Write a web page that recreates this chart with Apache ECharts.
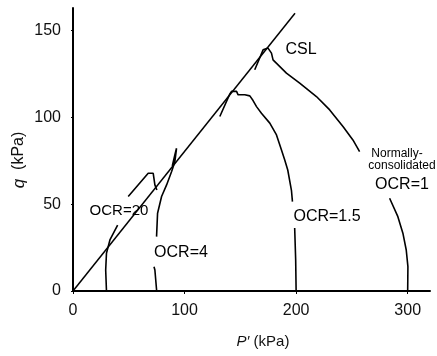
<!DOCTYPE html>
<html>
<head>
<meta charset="utf-8">
<script src="https://cdn.jsdelivr.net/npm/echarts@6/dist/echarts.min.js"></script>
<style>
  html, body { margin: 0; padding: 0; background: #fff; }
  #mychart { width: 437px; height: 356px; }
</style>
</head>
<body>
<div id="mychart"></div>
<script>
// p' (kPa), q (kPa) pairs
var xTicks = [0, 100, 200, 300];
var yTicks = [0, 50, 100, 150];

var cslLine = [[0, 0], [199, 160]];

var ocr1Low = [[300, 0], [300.2, 14], [298.7, 23.6], [295.7, 33.3], [291.2, 42.8], [283.8, 53.4]];
var ocr1High = [[256.9, 80.3], [250.9, 87], [242, 94.7], [230.1, 104.3], [218.2, 112], [203.2, 119.7],
    [191.3, 125.5], [179.3, 133.1], [177.9, 137], [174.8, 139.9], [170.4, 138.9], [162.9, 127.4]];

var ocr15Low = [[200, 0], [199.6, 17.9], [198.7, 36.3]];
var ocr15High = [[196.7, 51.5], [195.8, 58], [192.5, 69.7], [189.8, 75.5], [186.8, 81.3], [182.4, 89.9],
    [176.4, 96.7], [168.9, 102.4], [164.5, 106.2], [161.4, 109.7], [158.5, 112.4], [154, 113],
    [148, 113], [146.6, 115], [142.1, 115], [140.6, 113.5], [131.6, 100.5]];

var ocr4Low = [[75, 0], [73.4, 12.1], [72.6, 14]];
var ocr4High = [[74.9, 31.3], [75.8, 44.8], [79.4, 54.4], [83.9, 61.1], [88.4, 68.8], [91.3, 74.5],
    [92.8, 82.2], [91.5, 79], [89, 72]];

var ocr20Low = [[30, 0], [29.3, 12.1], [30, 21.7], [33.1, 29.4], [40, 38]];
var ocr20High = [[49.5, 54.4], [67.4, 67.8], [71.9, 67.8], [73.4, 61.1], [75.2, 58.2]];

var FONT = '"Liberation Sans", Arial, sans-serif';

// lower + upper piece of a path, broken where the label sits
function withGap(a, b) {
    return a.concat([['-', '-']], b);
}

function pathSeries(name, data, w) {
    return {
        name: name,
        type: 'line',
        data: data,
        showSymbol: false,
        connectNulls: false,
        silent: true,
        lineStyle: { color: '#000', width: w || 1.6 },
        z: 3
    };
}

function label(text, x, y, size) {
    return {
        type: 'text',
        x: x,
        y: y,
        z: 10,
        style: {
            text: text,
            fill: '#000',
            font: size + 'px ' + FONT,
            align: 'center',
            verticalAlign: 'middle'
        }
    };
}

var myChart = echarts.init(document.getElementById('mychart'));

var option = {
    animation: false,
    grid: { left: 73, right: 7, top: 8, bottom: 65 },
    xAxis: {
        type: 'value',
        min: 0,
        max: 320,
        interval: 100,
        axisLine: { lineStyle: { color: '#000', width: 2 } },
        axisTick: { length: 3, lineStyle: { color: '#000' } },
        axisLabel: {
            color: '#111', fontSize: 16, fontFamily: FONT, margin: 12, showMaxLabel: false,
            formatter: function (v) { return xTicks.indexOf(v) >= 0 ? v : ''; }
        },
        splitLine: { show: false }
    },
    yAxis: {
        type: 'value',
        min: 0,
        max: 163,
        interval: 50,
        axisLine: { show: true, lineStyle: { color: '#000', width: 2 } },
        axisTick: { show: true, length: 2, lineStyle: { color: '#000' } },
        axisLabel: {
            color: '#111', fontSize: 16, fontFamily: FONT, margin: 12, showMaxLabel: false,
            formatter: function (v) { return yTicks.indexOf(v) >= 0 ? v : ''; }
        },
        splitLine: { show: false }
    },
    graphic: [
        label('CSL', 301, 50, 16),
        label('Normally-', 397, 154, 12),
        label('consolidated', 402, 166, 12),
        label('OCR=1', 402, 185, 16),
        label('OCR=1.5', 327, 217, 16),
        label('OCR=4', 181, 253, 16),
        label('OCR=20', 119, 211, 15),
        {
            type: 'text',
            x: 19,
            y: 160,
            rotation: Math.PI / 2,
            style: {
                text: '{i|q}  (kPa)',
                fill: '#111',
                font: '16px ' + FONT,
                align: 'center',
                verticalAlign: 'middle',
                rich: {
                    i: { fontStyle: 'italic', fontSize: 17, fontFamily: FONT, fill: '#111' }
                }
            }
        },
        {
            type: 'text',
            x: 263,
            y: 342,
            style: {
                text: '{i|P\u2032} (kPa)',
                fill: '#111',
                font: '15px ' + FONT,
                align: 'center',
                verticalAlign: 'middle',
                rich: {
                    i: { fontStyle: 'italic', fontSize: 15, fontFamily: FONT, fill: '#111' }
                }
            }
        }
    ],
    series: [
        pathSeries('CSL', cslLine, 1.5),
        pathSeries('OCR=1', withGap(ocr1Low, ocr1High)),
        pathSeries('OCR=1.5', withGap(ocr15Low, ocr15High)),
        pathSeries('OCR=4', withGap(ocr4Low, ocr4High)),
        pathSeries('OCR=20', withGap(ocr20Low, ocr20High))
    ]
};

myChart.setOption(option);
</script>
</body>
</html>
